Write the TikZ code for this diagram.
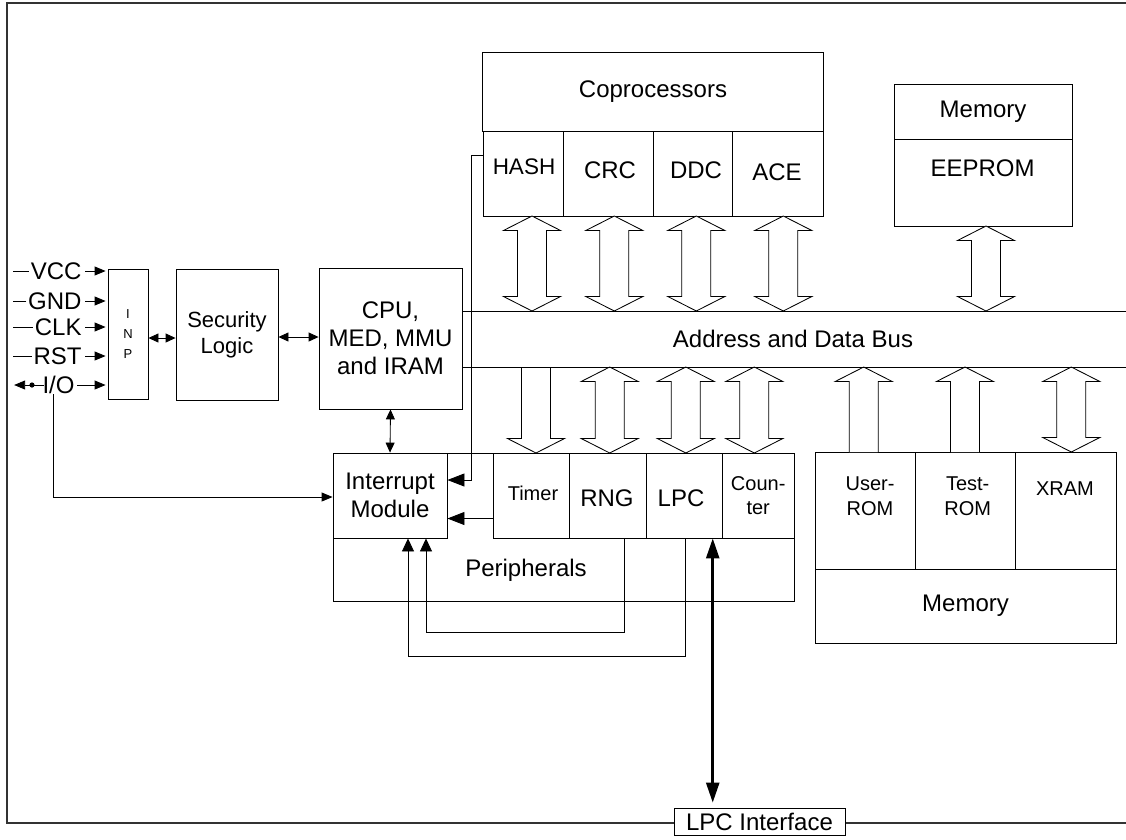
\documentclass[tikz,border=0pt]{standalone}
\usepackage{fontspec}
\setmainfont{Liberation Sans}
\usetikzlibrary{arrows.meta}
% block arrows: #1 = centre x, #2 = top y, #3 = bottom y (y grows downward)
\newcommand\blkdbl[3]{\draw[blk] ({#1},{#2}) -- ({#1+28.5},{#2+14.5}) -- ({#1+14.5},{#2+14.5}) -- ({#1+14.5},{#3-14.5}) -- ({#1+28.5},{#3-14.5}) -- ({#1},{#3}) -- ({#1-28.5},{#3-14.5}) -- ({#1-14.5},{#3-14.5}) -- ({#1-14.5},{#2+14.5}) -- ({#1-28.5},{#2+14.5}) -- cycle;}
\newcommand\blkup[3]{\draw[blk] ({#1-14.5},{#3}) -- ({#1-14.5},{#2+14.5}) -- ({#1-28.5},{#2+14.5}) -- ({#1},{#2}) -- ({#1+28.5},{#2+14.5}) -- ({#1+14.5},{#2+14.5}) -- ({#1+14.5},{#3});}
\newcommand\blkdown[3]{\draw[blk] ({#1-14.5},{#2}) -- ({#1-14.5},{#3-14.5}) -- ({#1-28.5},{#3-14.5}) -- ({#1},{#3}) -- ({#1+28.5},{#3-14.5}) -- ({#1+14.5},{#3-14.5}) -- ({#1+14.5},{#2});}
\begin{document}
\begin{tikzpicture}[x=1pt,y=-1pt,line width=0.85pt,
  bigf/.style={font=\fontsize{24}{28}\selectfont},
  smf/.style={font=\fontsize{20}{24.5}\selectfont},
  box/.style={draw,rectangle,inner sep=0pt,align=center,bigf},
  txt/.style={inner sep=0pt,align=center,bigf},
  blk/.style={draw,fill=white,line width=0.85pt,line join=miter},
  sa/.style={-{Triangle[length=11pt,width=9pt]}},
  da/.style={{Triangle[length=10pt,width=9pt]}-{Triangle[length=10pt,width=9pt]}},
  ma/.style={-{Triangle[length=17pt,width=13pt]}},
  ua/.style={-{Triangle[length=13pt,width=12pt]}},
  ta/.style={line width=2.5pt,{Triangle[length=20pt,width=13pt]}-{Triangle[length=20pt,width=13pt]}},
  frame/.style={draw=black!80,line width=1.3pt}]
\useasboundingbox (0,0) rectangle (1126,839);
% outer frame (right side lies beyond the picture)
\draw[frame] (1126,3) -- (7,3) -- (7,823) -- (1126,823);

% left blocks
\node[box,minimum width=40pt,minimum height=130pt,font=\fontsize{13}{20}\selectfont] (inp) at (128,334) {I\\N\\P};
\node[box,minimum width=102pt,minimum height=131pt,font=\fontsize{22}{26}\selectfont] (sec) at (227,334.5) {Security\\Logic};
\node[box,minimum width=143pt,minimum height=141pt] (cpu) at (390.5,338.5) {CPU,\\MED, MMU\\and IRAM};

% peripherals
\node[draw,rectangle,minimum width=461pt,minimum height=148pt,inner sep=0pt] (per) at (563.5,527) {};
\node[txt] (perT) at (526,570) {Peripherals};
\node[box,minimum width=114pt,minimum height=85pt] (intr) at (390,495.5) {Interrupt\\Module};
\node[box,smf,minimum width=76.3pt,minimum height=85pt] (timer) at (531.2,495.5) {};
\node[txt,smf] (timerT) at (533,493) {Timer};
\node[box,minimum width=77.4pt,minimum height=85pt] (rng) at (608,495.5) {};
\node[txt] (rngT) at (607,498) {RNG};
\node[box,minimum width=75.6pt,minimum height=85pt] (lpc) at (684.5,495.5) {};
\node[txt] (lpcT) at (681,498) {LPC};
\node[box,smf,minimum width=71.7pt,minimum height=85pt] (cnt) at (758.2,495.5) {Coun-\\ter};

% signals
\node[txt,anchor=east] (vcc) at (82,271) {VCC};
\node[txt,anchor=east] (gnd) at (82,301) {GND};
\node[txt,anchor=east] (clk) at (82,327) {CLK};
\node[txt,anchor=east] (rst) at (82,356) {RST};
\node[txt,anchor=east] (io)  at (75,385) {I/O};
\foreach \s in {vcc,gnd,clk,rst}{
  \draw ([xshift=-1.5pt]\s.west) -- (13,0 |- \s.west);
  \draw[sa] ([xshift=3pt]\s.east) -- ([xshift=-2pt]inp.west |- \s.east);
}
\draw[sa] ([xshift=2pt]io.east) -- ([xshift=-2pt]inp.west |- io.east);
\draw[sa] ([xshift=2pt]io.west) -- ++(-30,0);
\fill (32,385) circle (2.6pt);
\coordinate (iod) at (53,394);
\draw[sa] (iod) |- ([yshift=-1.5pt]intr.west);

\draw[da] ([yshift=-4pt]inp.east) -- ([yshift=-4pt]inp.east -| sec.west);
\draw[da] ([yshift=-2.5pt]sec.east) -- ([yshift=-2.5pt]sec.east -| cpu.west);

\draw[da] (cpu.south) -- (intr.north);
\draw[ma] ([yshift=-23pt]timer.west) -- ([yshift=-23pt]intr.east);
\draw[ua] ([xshift=16pt]rng.south) -- ++(0,94) -| ([xshift=36pt]intr.south);
\draw[ua] ([xshift=1.2pt]lpc.south) -- ++(0,117.5) -| ([xshift=18pt]intr.south);

% coprocessors
\node[box,minimum width=341pt,minimum height=79pt] (cop) at (653,91.5) {Coprocessors};
\node[box,minimum width=80.3pt,minimum height=85pt] (hash) at (523.2,173.5) {};
\node[txt,font=\fontsize{22.5}{26}\selectfont] (hashT) at (524,167) {HASH};
\node[box,minimum width=90pt,minimum height=85pt] (crc) at (608.3,173.5) {};
\node[txt] (crcT) at (610,170) {CRC};
\node[box,minimum width=79.4pt,minimum height=85pt] (ddc) at (693,173.5) {};
\node[txt] (ddcT) at (696,170) {DDC};
\node[box,minimum width=90.6pt,minimum height=85pt] (ace) at (778,173.5) {};
\node[txt] (aceT) at (777,172) {ACE};
\draw[ma] ([yshift=18pt]hash.west) -- ++(-11,0) |- ([yshift=15.5pt]intr.east);

% top-right memory
\node[box,minimum width=178pt,minimum height=55pt] (eemem) at (983,111.5) {Memory};
\node[box,minimum width=178pt,minimum height=87pt] (eeprom) at (983,182.5) {};
\node[txt] (eepromT) at (982.5,168) {EEPROM};

% right memory
\node[box,minimum width=100.3pt,minimum height=117pt] (urom) at (865.2,510.5) {};
\node[txt,smf] (uromT) at (870,496) {User-\\ROM};
\node[box,minimum width=99.7pt,minimum height=117pt] (trom) at (965.2,510.5) {};
\node[txt,smf] (tromT) at (967.7,496) {Test-\\ROM};
\node[box,minimum width=101pt,minimum height=117pt] (xram) at (1065.5,510.5) {};
\node[txt,smf] (xramT) at (1065,489) {XRAM};
\node[box,minimum width=301pt,minimum height=74pt] (mem) at (965.5,606) {Memory};

% block arrows
\blkdbl{532}{216}{311}
\blkdbl{614.3}{216}{311}
\blkdbl{696.3}{216}{311}
\blkdbl{783.3}{216}{311}
\blkdbl{986}{226}{311}
\blkdown{536}{367}{453}
\blkdbl{609.7}{367}{453}
\blkdbl{685.8}{367}{453}
\blkdbl{754.3}{367}{453}
\blkup{863.7}{367}{452}
\blkup{965}{367}{452}
\blkdbl{1071.3}{367}{452}

% bus
\coordinate (busT) at (1126,311);
\coordinate (busB) at (1126,367);
\draw (cpu.east |- busT) -- (busT);
\draw (cpu.east |- busB) -- (busB);
\node[txt] (bus) at (793,339) {Address and Data Bus};

% LPC interface
\node[box,fill=white,minimum width=171pt,minimum height=27pt] (lpcif) at (759.5,821.5) {LPC Interface};
\draw[ta,shorten >=5pt] ([xshift=-10pt]lpc.south east) -- ([xshift=-10pt]lpc.south east |- lpcif.north);
\end{tikzpicture}
\end{document}
